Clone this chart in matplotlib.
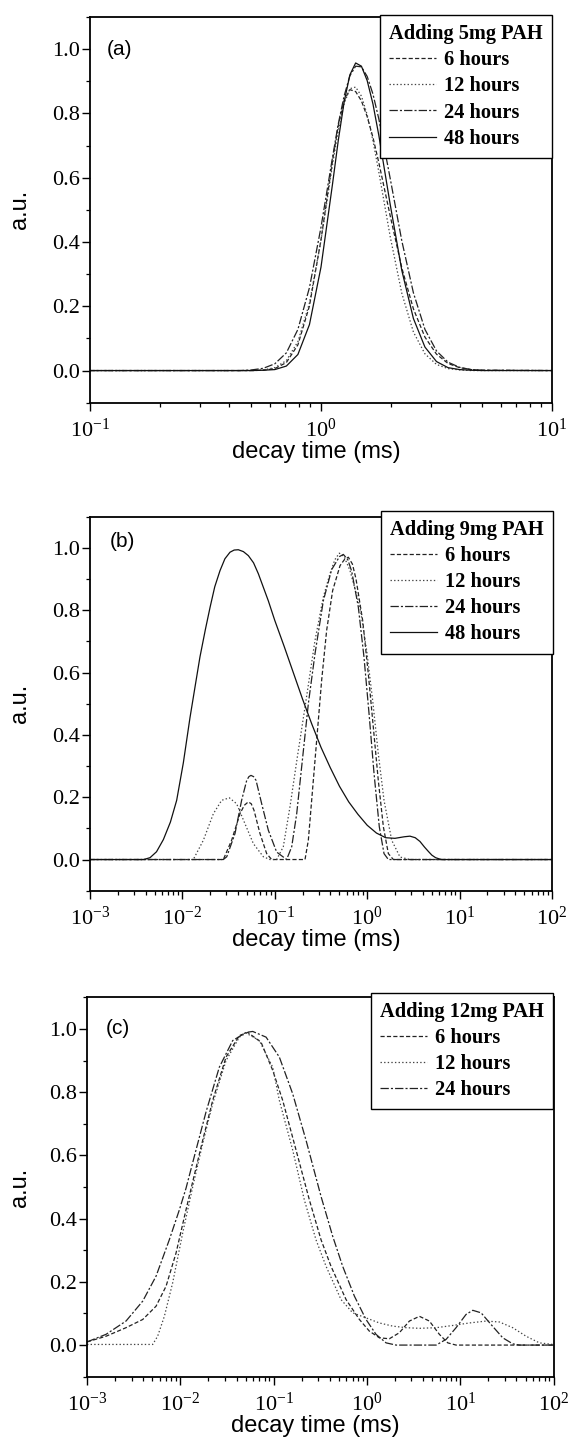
import numpy as np
import matplotlib
matplotlib.use("Agg")
import matplotlib.pyplot as plt
from matplotlib.ticker import (MultipleLocator, FormatStrFormatter,
                               LogLocator, NullFormatter)

plt.rcParams['font.family'] = ['Liberation Serif', 'DejaVu Serif']
plt.rcParams['mathtext.fontset'] = 'custom'
plt.rcParams['mathtext.rm'] = 'Liberation Serif'
plt.rcParams['lines.scale_dashes'] = False

# ---- data (x given as log10 of decay time in ms) ----
# panel (a): 5 mg PAH, one shared x grid
A_LOGT = [-1.0, -0.4, -0.35, -0.3, -0.25, -0.2, -0.15, -0.1, -0.05, 0.0, 0.05,
          0.075, 0.1, 0.125, 0.15, 0.175, 0.2, 0.225, 0.25, 0.3, 0.35, 0.4,
          0.45, 0.5, 0.55, 0.6, 0.65, 0.7, 1.0]
A_6H = [0, 0, 0, 0, 0.001, 0.006, 0.025, 0.080, 0.201, 0.407, 0.654, 0.763,
        0.840, 0.874, 0.868, 0.839, 0.790, 0.725, 0.648, 0.480, 0.319, 0.192,
        0.104, 0.051, 0.022, 0.009, 0.003, 0.001, 0]
A_12H = [0, 0, 0, 0, 0.002, 0.009, 0.031, 0.090, 0.210, 0.405, 0.641, 0.748,
         0.830, 0.877, 0.882, 0.854, 0.796, 0.715, 0.619, 0.415, 0.240, 0.120,
         0.052, 0.019, 0.006, 0.002, 0, 0, 0]
A_24H = [0, 0, 0, 0.002, 0.007, 0.021, 0.055, 0.128, 0.258, 0.446, 0.664,
         0.768, 0.854, 0.917, 0.947, 0.945, 0.915, 0.860, 0.784, 0.596, 0.403,
         0.242, 0.128, 0.061, 0.026, 0.010, 0.003, 0.001, 0]
A_48H = [0, 0, 0, 0, 0.001, 0.003, 0.014, 0.050, 0.143, 0.322, 0.581, 0.717,
         0.835, 0.920, 0.957, 0.947, 0.902, 0.829, 0.733, 0.515, 0.311, 0.162,
         0.073, 0.028, 0.009, 0.003, 0.001, 0, 0]

# panel (b): 9 mg PAH
B_6H_LOGT = [-3.0, -1.557, -1.467, -1.377, -1.33, -1.287, -1.255, -1.225,
             -1.160, -1.088, -1.034, -0.673, -0.637, -0.601, -0.547, -0.493,
             -0.439, -0.374, -0.294, -0.245, -0.204, -0.16, -0.121, -0.049,
             0.012, 0.066, 0.120, 0.175, 0.229, 0.283, 2.0]
B_6H = [0, 0, 0.062, 0.147, 0.174, 0.185, 0.179, 0.158, 0.083, 0.019, 0, 0,
        0.062, 0.190, 0.382, 0.575, 0.735, 0.863, 0.943, 0.963, 0.970, 0.948,
        0.900, 0.767, 0.596, 0.425, 0.254, 0.105, 0.019, 0, 0]
B_12H_LOGT = [-3.0, -1.882, -1.773, -1.665, -1.575, -1.492, -1.413, -1.323,
              -1.232, -1.124, -1.052, -0.98, -0.908, -0.836, -0.756, -0.673,
              -0.565, -0.475, -0.403, -0.35, -0.302, -0.25, -0.186, -0.078,
              -0.006, 0.059, 0.120, 0.182, 0.265, 0.355, 0.463, 2.0]
B_12H = [0, 0, 0.062, 0.147, 0.190, 0.198, 0.179, 0.115, 0.051, 0.009, 0, 0,
         0.041, 0.169, 0.329, 0.489, 0.703, 0.842, 0.917, 0.962, 0.983, 0.972,
         0.927, 0.810, 0.671, 0.511, 0.340, 0.190, 0.062, 0.008, 0, 0]
B_24H_LOGT = [-3.0, -1.557, -1.52, -1.431, -1.359, -1.304, -1.28, -1.258,
              -1.23, -1.203, -1.142, -1.070, -0.980, -0.872, -0.817, -0.763,
              -0.698, -0.637, -0.565, -0.475, -0.385, -0.30, -0.258, -0.21,
              -0.168, -0.096, -0.035, 0.020, 0.074, 0.131, 0.182, 0.229, 2.0]
B_24H = [0, 0, 0.009, 0.083, 0.190, 0.254, 0.266, 0.270, 0.266, 0.254, 0.179,
         0.094, 0.024, 0, 0.041, 0.147, 0.329, 0.500, 0.660, 0.830, 0.930,
         0.972, 0.979, 0.962, 0.925, 0.810, 0.650, 0.468, 0.276, 0.105, 0.019,
         0, 0]
B_48H_LOGT = [-3.0, -2.42, -2.35, -2.28, -2.206, -2.13, -2.062, -1.99, -1.918,
              -1.86, -1.81, -1.75, -1.70, -1.65, -1.593, -1.54, -1.485, -1.44,
              -1.395, -1.34, -1.286, -1.23, -1.178, -1.07, -1.0, -0.9, -0.8,
              -0.7, -0.6, -0.5, -0.4, -0.3, -0.2, -0.1, 0.0, 0.1, 0.2, 0.3,
              0.4, 0.463, 0.52, 0.571, 0.62, 0.662, 0.7, 0.74, 0.78, 0.806, 2.0]
B_48H = [0, 0, 0.006, 0.025, 0.064, 0.12, 0.19, 0.31, 0.455, 0.56, 0.65, 0.74,
         0.81, 0.875, 0.927, 0.965, 0.986, 0.993, 0.994, 0.988, 0.975, 0.952,
         0.917, 0.83, 0.767, 0.685, 0.60, 0.515, 0.435, 0.36, 0.295, 0.235,
         0.185, 0.145, 0.11, 0.085, 0.07, 0.068, 0.073, 0.075, 0.07, 0.058,
         0.04, 0.026, 0.014, 0.006, 0.002, 0, 0]

# panel (c): 12 mg PAH
C_6H_LOGT = [-3.0, -2.796, -2.582, -2.403, -2.260, -2.153, -2.046, -1.939,
             -1.867, -1.760, -1.653, -1.510, -1.367, -1.278, -1.135, -1.010,
             -0.903, -0.760, -0.617, -0.492, -0.385, -0.224, -0.081, 0.026,
             0.133, 0.240, 0.347, 0.455, 0.562, 0.669, 0.776, 0.866, 0.955, 2.0]
C_6H = [0.010, 0.028, 0.055, 0.081, 0.123, 0.186, 0.291, 0.428, 0.517, 0.648,
        0.774, 0.911, 0.979, 0.989, 0.958, 0.869, 0.774, 0.617, 0.459, 0.333,
        0.249, 0.144, 0.081, 0.044, 0.023, 0.020, 0.039, 0.076, 0.091, 0.076,
        0.034, 0.007, 0, 0]
C_12H_LOGT = [-3.0, -2.296, -2.243, -2.171, -2.082, -1.975, -1.867, -1.760,
              -1.653, -1.510, -1.367, -1.296, -1.153, -1.010, -0.939, -0.796,
              -0.671, -0.546, -0.438, -0.278, -0.153, -0.010, 0.133, 0.276,
              0.419, 0.562, 0.741, 0.919, 1.098, 1.277, 1.420, 1.562, 1.705,
              1.848, 1.991, 2.0]
C_12H = [0.002, 0.002, 0.028, 0.091, 0.197, 0.354, 0.501, 0.638, 0.764, 0.900,
         0.974, 0.987, 0.963, 0.879, 0.774, 0.617, 0.459, 0.333, 0.249, 0.144,
         0.102, 0.086, 0.070, 0.060, 0.055, 0.053, 0.055, 0.062, 0.070, 0.076,
         0.073, 0.055, 0.028, 0.007, 0.002, 0.002]
C_24H_LOGT = [-3.0, -2.796, -2.582, -2.403, -2.260, -2.118, -2.010, -1.939,
              -1.832, -1.725, -1.582, -1.439, -1.296, -1.224, -1.081, -0.939,
              -0.796, -0.653, -0.492, -0.367, -0.260, -0.135, -0.010, 0.097,
              0.205, 0.312, 0.741, 0.848, 0.955, 1.062, 1.134, 1.223, 1.330,
              1.455, 1.562, 1.634, 2.0]
C_24H = [0.010, 0.034, 0.076, 0.139, 0.218, 0.333, 0.428, 0.496, 0.617, 0.737,
         0.879, 0.963, 0.989, 0.992, 0.974, 0.911, 0.795, 0.648, 0.470, 0.344,
         0.249, 0.155, 0.081, 0.034, 0.007, 0, 0, 0.018, 0.055, 0.097, 0.110,
         0.102, 0.065, 0.023, 0.004, 0, 0]

LABELS = ['6 hours', '12 hours', '24 hours', '48 hours']
TITLES = ['Adding 5mg PAH', 'Adding 9mg PAH', 'Adding 12mg PAH']
LETTERS = ['(a)', '(b)', '(c)']

STYLES = {
    '6 hours': dict(ls=(0, (3, 1.6)), color='#222222', lw=0.9),
    '12 hours': dict(ls=(0, (1, 1.6)), color='#444444', lw=0.9),
    '24 hours': dict(ls=(0, (6, 1.5, 1.5, 1.5)), color='#222222', lw=0.9),
    '48 hours': dict(ls='-', color='#111111', lw=0.9),
}

W, H = 568, 1450
SANS = ['Liberation Sans', 'DejaVu Sans']
LEG_SIZE = 14.7


def fx(px):
    return px / W


def fy(py):
    return 1 - py / H


def setup_axis(ax, xlim):
    ax.set_xscale('log')
    ax.set_xlim(*xlim)
    ax.set_ylim(-0.1, 1.1)
    ax.xaxis.set_major_locator(LogLocator(base=10, numticks=20))
    ax.xaxis.set_minor_locator(LogLocator(base=10, subs=np.arange(2, 10), numticks=20))
    ax.xaxis.set_minor_formatter(NullFormatter())
    ax.yaxis.set_major_locator(MultipleLocator(0.2))
    ax.yaxis.set_minor_locator(MultipleLocator(0.1))
    ax.yaxis.set_major_formatter(FormatStrFormatter('%.1f'))
    ax.tick_params(which='major', direction='out', length=5.5, width=1.0,
                   labelsize=16, top=False, right=False)
    ax.tick_params(which='minor', direction='out', length=3, width=0.9,
                   top=False, right=False)
    ax.tick_params(axis='x', which='major', pad=6)
    ax.tick_params(axis='y', which='major', pad=2)
    for s in ax.spines.values():
        s.set_linewidth(1.3)


def draw_panel(ax, curves, xlim, letter, letter_x, letter_y, title, legend_tr,
               axes_box):
    setup_axis(ax, xlim)
    for label, logt, vals in curves:
        ax.plot(np.power(10.0, logt), vals, label=label, **STYLES[label])
    ax.text(letter_x, letter_y, letter, transform=ax.get_yaxis_transform(),
            ha='left', va='center', fontsize=15, family=SANS)
    leg = ax.legend(loc='upper right', bbox_to_anchor=legend_tr,
                    bbox_transform=fig.transFigure, borderaxespad=0,
                    fancybox=False, edgecolor='black', framealpha=1,
                    prop={'weight': 'bold', 'size': LEG_SIZE},
                    title=title,
                    title_fontproperties={'weight': 'bold', 'size': LEG_SIZE},
                    alignment='left', handlelength=2.3, handletextpad=0.4,
                    labelspacing=0.3, borderpad=0.45)
    leg.get_frame().set_linewidth(1.0)
    left, top, right, bottom = axes_box
    xc = (left + right) / 2 - 5
    fig.text(fx(xc), fy(bottom + 49), 'decay time (ms)', ha='center',
             va='center', fontsize=17, family=SANS)
    fig.text(fx(20), fy((top + bottom) / 2), 'a.u.', rotation=90,
             ha='center', va='center', fontsize=17, family=SANS)


fig = plt.figure(figsize=(W / 100, H / 100), dpi=100)

# axes boxes in pixels: left, top, right, bottom
BOXES = [(90, 17, 552, 402.7), (90, 516.7, 552, 890.7), (87, 997.3, 553.6, 1376.7)]
axes = []
for l, t, r, b in BOXES:
    axes.append(fig.add_axes([fx(l), fy(b), (r - l) / W, (b - t) / H]))

panel_a = [('6 hours', A_LOGT, A_6H), ('12 hours', A_LOGT, A_12H),
           ('24 hours', A_LOGT, A_24H), ('48 hours', A_LOGT, A_48H)]
panel_b = [('6 hours', B_6H_LOGT, B_6H), ('12 hours', B_12H_LOGT, B_12H),
           ('24 hours', B_24H_LOGT, B_24H), ('48 hours', B_48H_LOGT, B_48H)]
panel_c = [('6 hours', C_6H_LOGT, C_6H), ('12 hours', C_12H_LOGT, C_12H),
           ('24 hours', C_24H_LOGT, C_24H)]

draw_panel(axes[0], panel_a, (0.1, 10), LETTERS[0], 0.037, 1.0, TITLES[0],
           (fx(552), fy(15)), BOXES[0])
draw_panel(axes[1], panel_b, (1e-3, 1e2), LETTERS[1], 0.043, 1.02, TITLES[1],
           (fx(553), fy(510.7)), BOXES[1])
draw_panel(axes[2], panel_c, (1e-3, 1e2), LETTERS[2], 0.041, 1.0, TITLES[2],
           (fx(553), fy(992.7)), BOXES[2])

fig.savefig('out.png', dpi=100)
